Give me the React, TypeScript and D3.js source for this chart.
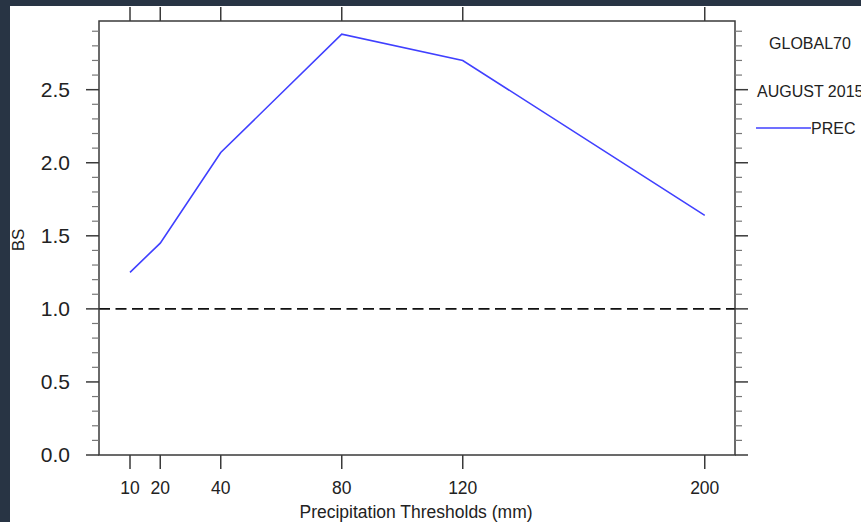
import React from 'react'
import * as d3 from 'd3'

// thresholds (mm) and BS scores
const thresholds = [10, 20, 40, 80, 120, 200]
const bsValues = [1.25, 1.45, 2.07, 2.88, 2.70, 1.64]
const yMajorTicks = [0, 0.5, 1.0, 1.5, 2.0, 2.5]
const legendTitle = 'GLOBAL70'
const legendDate = 'AUGUST 2015'
const legendSeries = 'PREC'

const frame = {left: 99, right: 735, top: 21, bottom: 455}
const font = 'Helvetica, "Liberation Sans", Arial, sans-serif'

export default function App() {
  const xScale = d3.scaleLinear()
    .domain([-0.25, 210])
    .range([frame.left, frame.right])

  const yScale = d3.scaleLinear()
    .domain([0, 2.97])
    .range([frame.bottom, frame.top])

  const minorTicks = d3.range(0, 30).map(d => d / 10)
    .filter(d => !yMajorTicks.some(m => Math.abs(m - d) < 1e-6))

  const line = d3.line<number>()
    .x((d, i) => xScale(thresholds[i]))
    .y(d => yScale(d))

  const axisColor = '#3a3a3a'

  return (
    <svg width={861} height={522} style={{position: 'absolute', left: 0, top: 0}}>
      <rect x={0} y={0} width={861} height={522} fill='#283444' />
      <rect x={10} y={6} width={851} height={516} fill='#ffffff' />

      {/* reference line at BS = 1 */}
      <line
        x1={frame.left} x2={frame.right}
        y1={yScale(1)} y2={yScale(1)}
        stroke='#111' strokeWidth={1.6} strokeDasharray='11,5.5' />

      <path d={line(bsValues) || ''} fill='none' stroke='#4040ff' strokeWidth={1.6} />

      {/* frame */}
      <rect
        x={frame.left} y={frame.top}
        width={frame.right - frame.left} height={frame.bottom - frame.top}
        fill='none' stroke={axisColor} strokeWidth={1.5} />

      {/* y ticks, both sides */}
      {minorTicks.map(t => (
        <g key={'mn' + t} stroke='#777' strokeWidth={1.2}>
          <line x1={frame.left - 7} x2={frame.left} y1={yScale(t)} y2={yScale(t)} />
          <line x1={frame.right} x2={frame.right + 7} y1={yScale(t)} y2={yScale(t)} />
        </g>
      ))}
      {yMajorTicks.map(t => (
        <g key={'mj' + t}>
          <line x1={frame.left - 13} x2={frame.left} y1={yScale(t)} y2={yScale(t)}
            stroke={axisColor} strokeWidth={1.5} />
          <line x1={frame.right} x2={frame.right + 13} y1={yScale(t)} y2={yScale(t)}
            stroke={axisColor} strokeWidth={1.5} />
          <text x={70} y={yScale(t)} dy='0.35em' textAnchor='end'
            fontFamily={font} fontSize={21} fill='#222'>
            {t.toFixed(1)}
          </text>
        </g>
      ))}

      {/* x ticks, bottom and top */}
      {thresholds.map(t => (
        <g key={'x' + t}>
          <line x1={xScale(t)} x2={xScale(t)} y1={frame.bottom} y2={frame.bottom + 14}
            stroke={axisColor} strokeWidth={1.5} />
          <line x1={xScale(t)} x2={xScale(t)} y1={frame.top} y2={frame.top - 14}
            stroke={axisColor} strokeWidth={1.5} />
          <text x={xScale(t)} y={488} dy='0.35em' textAnchor='middle'
            fontFamily={font} fontSize={17.5} fill='#222'>
            {t}
          </text>
        </g>
      ))}

      <text x={(frame.left + frame.right) / 2 - 1} y={512} dy='0.35em' textAnchor='middle'
        fontFamily={font} fontSize={17.5} fill='#222'>
        Precipitation Thresholds (mm)
      </text>

      <text transform={'translate(18,' + 240 + ') rotate(-90)'} dy='0.35em' textAnchor='middle'
        fontFamily={font} fontSize={17} fill='#222'>
        BS
      </text>

      {/* legend */}
      <text x={810} y={43} dy='0.35em' textAnchor='middle'
        fontFamily={font} fontSize={16} fill='#222'>
        {legendTitle}
      </text>
      <text x={757} y={91} dy='0.35em' textAnchor='start'
        fontFamily={font} fontSize={16} fill='#222'>
        {legendDate}
      </text>
      <line x1={756} x2={811} y1={128} y2={128} stroke='#4040ff' strokeWidth={1.5} />
      <text x={811} y={128} dy='0.35em' textAnchor='start'
        fontFamily={font} fontSize={16} fill='#222'>
        {legendSeries}
      </text>
    </svg>
  )
}
